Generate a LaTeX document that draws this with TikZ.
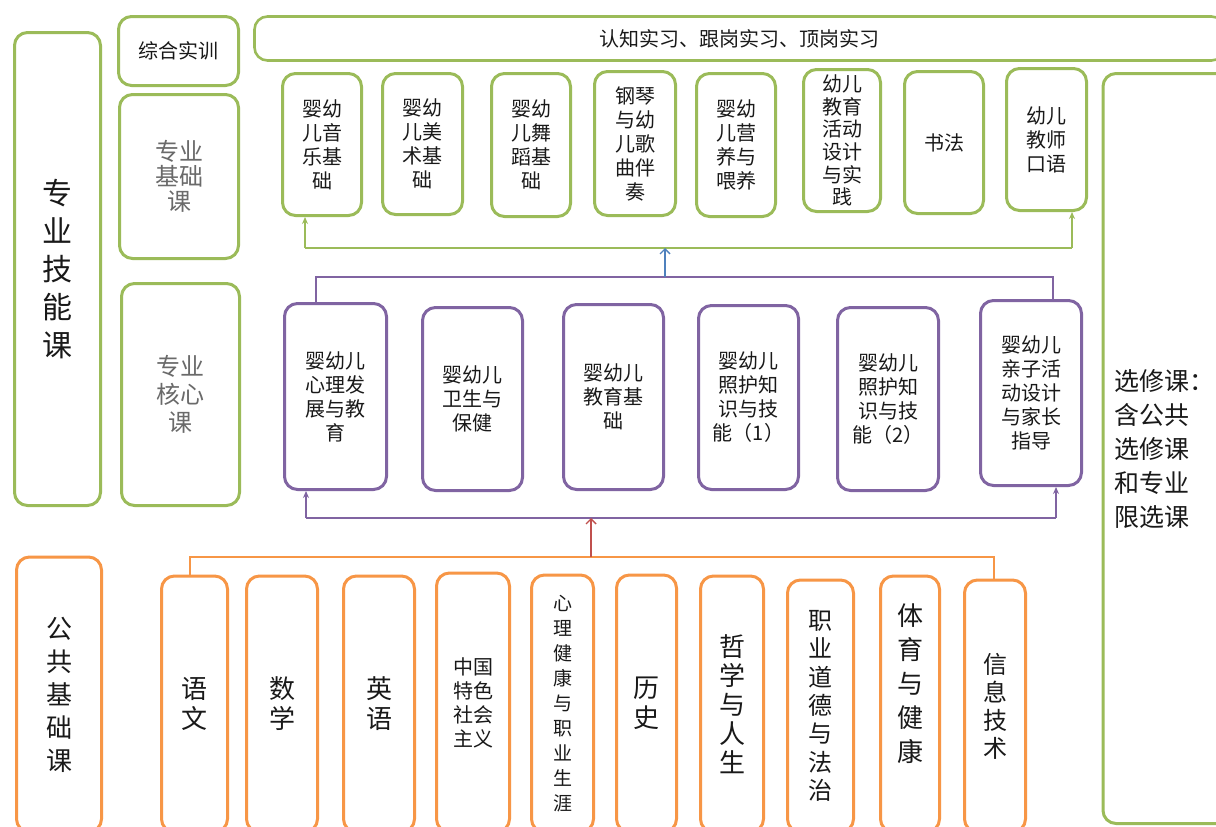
\documentclass[tikz,border=0pt]{standalone}
\usepackage{fontspec}
\setmainfont{Noto Sans CJK SC}
\usetikzlibrary{arrows.meta}
\definecolor{grn}{HTML}{9BBB59}
\definecolor{prp}{HTML}{8064A2}
\definecolor{org}{HTML}{F79646}
\definecolor{blu}{HTML}{4F81BD}
\definecolor{redc}{HTML}{C0504D}
\definecolor{txtgray}{HTML}{6A6A6A}
\begin{document}
\begin{tikzpicture}[x=1pt,y=-1pt,
  box/.style={draw, line width=3pt, rounded corners=13pt, inner sep=0pt, align=center, fill=white, text=black!90},
  gbox/.style={box, draw=grn},
  pbox/.style={box, draw=prp},
  obox/.style={box, draw=org},
  fs/.style 2 args={font={\fontsize{#1}{#2}\selectfont}},
  conn/.style={line width=1.4pt},
  filltip/.style={-{Stealth[length=7pt,width=6pt]}},
  opentip/.style={-{Straight Barb[length=5pt,width=10pt]}},
  wh/.style 2 args={minimum width=#1pt, minimum height=#2pt}
]
\useasboundingbox (0,0) rectangle (1216,827);
\clip (0,0) rectangle (1216,827);
\fill[white] (0,0) rectangle (1216,827);

% left green column
\node[gbox, wh={86}{473}, fs={30}{38}] (skill) at (57.5,269) {专\\业\\技\\能\\课};
\node[gbox, wh={120}{69}, fs={20}{24}] (zh) at (178.5,51) {综合实训};
\node[gbox, wh={119}{164}, fs={24}{25}, text=txtgray] (jc) at (179,176.5) {专业\\基础\\课};
\node[gbox, wh={118}{222}, fs={24}{28}, text=txtgray] (hx) at (180.5,394.5) {专业\\核心\\课};

% top wide box
\node[gbox, wh={970}{44}, line width=2.6pt, fs={20}{24}] (sx) at (739.5,38.5) {认知实习、跟岗实习、顶岗实习};

% right elective box
\node[gbox, wh={134}{750}, align=left, text width=112pt, fs={25}{34}] (xx) at (1170,448.5) {选修课：\\含公共\\选修课\\和专业\\限选课};

% green course boxes
\node[gbox, wh={79}{142}, fs={20}{24}] (g1) at (322,144.5) {婴幼\\儿音\\乐基\\础};
\node[gbox, wh={80}{141}, fs={20}{24}] (g2) at (422.5,144) {婴幼\\儿美\\术基\\础};
\node[gbox, wh={79}{143}, fs={20}{24}] (g3) at (531,145) {婴幼\\儿舞\\蹈基\\础};
\node[gbox, wh={81}{144}, fs={20}{24}] (g4) at (635,143.5) {钢琴\\与幼\\儿歌\\曲伴\\奏};
\node[gbox, wh={79}{143}, fs={20}{24}] (g5) at (736,145) {婴幼\\儿营\\养与\\喂养};
\node[gbox, wh={77}{142}, fs={20}{22.6}] (g6) at (842,140.5) {幼儿\\教育\\活动\\设计\\与实\\践};
\node[gbox, wh={79}{142}, fs={20}{24}] (g7) at (944,142.5) {书法};
\node[gbox, wh={80}{142}, fs={20}{24}] (g8) at (1046.5,139.5) {幼儿\\教师\\口语};

% purple core boxes
\node[pbox, wh={102}{186}, fs={20}{24}] (p1) at (335.5,396.5) {婴幼儿\\心理发\\展与教\\育};
\node[pbox, wh={100}{183}, fs={20}{24}] (p2) at (472.5,399) {婴幼儿\\卫生与\\保健};
\node[pbox, wh={100}{185}, fs={20}{24}] (p3) at (613.5,397) {婴幼儿\\教育基\\础};
\node[pbox, wh={100}{184}, fs={20}{24}] (p4) at (748.5,397.5) {婴幼儿\\照护知\\识与技\\能（1）};
\node[pbox, wh={101}{183}, fs={20}{24}] (p5) at (888,399) {婴幼儿\\照护知\\识与技\\能（2）};
\node[pbox, wh={101}{185}, fs={20}{24}] (p6) at (1031,393) {婴幼儿\\亲子活\\动设计\\与家长\\指导};

% orange public boxes
\node[obox, wh={85}{275}, fs={26}{33}] (o0) at (59,694.5) {公\\共\\基\\础\\课};
\node[obox, wh={66}{256}, fs={26}{30}] (o1) at (194.5,704) {语\\文};
\node[obox, wh={71}{256}, fs={26}{30}] (o2) at (282,704) {数\\学};
\node[obox, wh={71}{256}, fs={26}{30}] (o3) at (379,704) {英\\语};
\node[obox, wh={73}{259}, fs={20}{24}] (o4) at (473,702.5) {中国\\特色\\社会\\主义};
\node[obox, wh={62}{257}, fs={19}{25}] (o5) at (562.5,703.5) {心\\理\\健\\康\\与\\职\\业\\生\\涯};
\node[obox, wh={60}{257}, fs={26}{30}] (o6) at (646.5,703.5) {历\\史};
\node[obox, wh={63}{256}, fs={26}{29}] (o7) at (732,704) {哲\\学\\与\\人\\生};
\node[obox, wh={66}{252}, fs={24}{28.3}] (o8) at (820.5,706) {职\\业\\道\\德\\与\\法\\治};
\node[obox, wh={59}{256}, fs={26}{34}] (o9) at (910,704) {体\\育\\与\\健\\康\\[8pt]\mbox{}};
\node[obox, wh={61}{252}, fs={24}{28}] (o10) at (995,706) {信\\息\\技\\术};

% connector joints
\coordinate (gL) at (305,248);
\coordinate (gR) at (1072,248);
\coordinate (tL) at (316,277);
\coordinate (tR) at (1053,277);
\coordinate (bB) at (665,277);
\coordinate (bT) at (665,248);
\coordinate (uL) at (306,518);
\coordinate (uR) at (1056,518);
\coordinate (rB) at (591,557);
\coordinate (rT) at (591,518);
\coordinate (oL) at (190,557);
\coordinate (oR) at (994,557);

% green distribution line
\draw[conn, grn] (gL) -- (gR);
\draw[conn, grn, filltip] (gL) -- (gL |- g1.south);
\draw[conn, grn, filltip] (gR) -- (gR |- g8.south);
% purple top collector + blue arrow
\draw[conn, prp] (tL |- p1.north) -- (tL) -- (tR) -- (tR |- p6.north);
\draw[conn, blu, opentip] (bB) -- (bT);
% purple bottom distribution
\draw[conn, prp] (uL) -- (uR);
\draw[conn, prp, filltip] (uL) -- (uL |- p1.south);
\draw[conn, prp, filltip] (uR) -- (uR |- p6.south);
% orange collector + red arrow
\draw[conn, org] (oL |- o1.north) -- (oL) -- (oR) -- (oR |- o10.north);
\draw[conn, redc, opentip] (rB) -- (rT);
\end{tikzpicture}
\end{document}
